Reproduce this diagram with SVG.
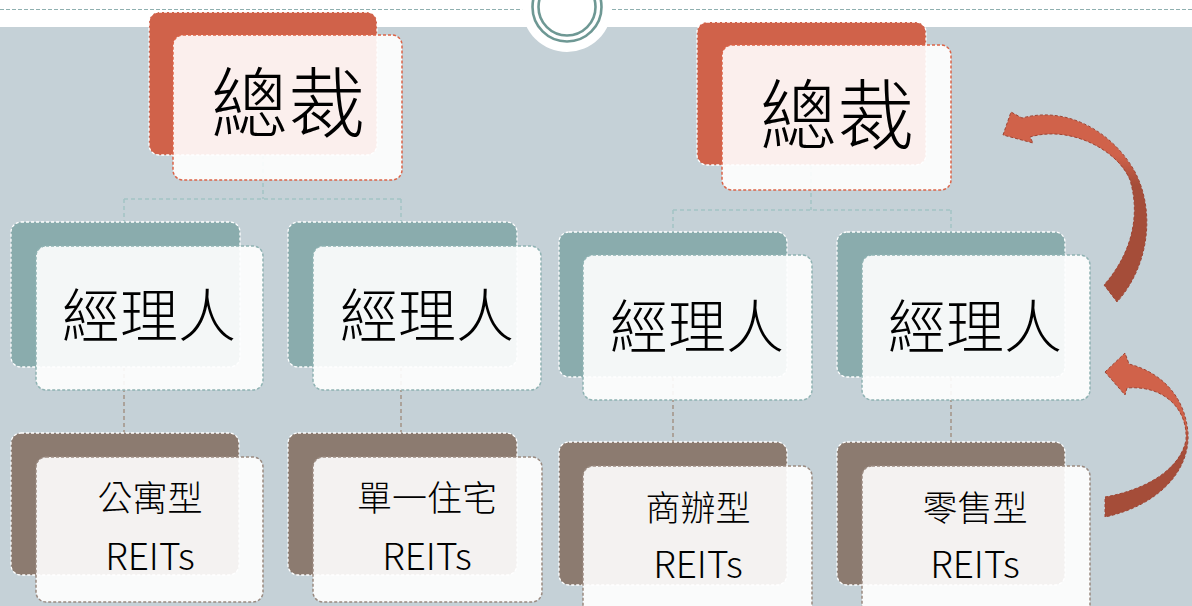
<svg xmlns="http://www.w3.org/2000/svg" width="1192" height="606" viewBox="0 0 1192 606">
<defs>
<style>
.bg-o{fill:#d0624a;stroke:#ffffff;stroke-width:1.3;stroke-dasharray:3 2}
.bg-t{fill:#8aacad;stroke:#ffffff;stroke-width:1.3;stroke-dasharray:3 2}
.bg-b{fill:#8c7b70;stroke:#ffffff;stroke-width:1.3;stroke-dasharray:3 2}
.fr{fill:#ffffff;fill-opacity:0.9;stroke-width:1.5;stroke-dasharray:3 2}
.fr-o{stroke:#dc6448}
.fr-t{stroke:#8fb3b3}
.fr-b{stroke:#9a8a80}
.t{font-family:"Noto Sans CJK TC","Noto Sans CJK SC",sans-serif;font-weight:300;fill:#000000;text-anchor:middle}
.t1{font-size:77px}
.t2{font-size:58px}
.t3{font-size:35px}
.t4{font-size:37px}
.c-t{fill:none;stroke:#a3c3c5;stroke-width:1.5;stroke-dasharray:4 3}
.c-b{fill:none;stroke:#a39287;stroke-width:1.5;stroke-dasharray:4 3}
.arr{stroke:#9e4534;stroke-width:1;stroke-dasharray:3 2}
</style>
<linearGradient id="g1" gradientUnits="userSpaceOnUse" x1="0" y1="155" x2="0" y2="185">
<stop offset="0" stop-color="#d0624a"/>
<stop offset="1" stop-color="#a54d39"/>
</linearGradient>
<linearGradient id="g2" gradientUnits="userSpaceOnUse" x1="0" y1="425" x2="0" y2="455">
<stop offset="0" stop-color="#d0624a"/>
<stop offset="1" stop-color="#a54d39"/>
</linearGradient>
</defs>

<rect x="0" y="0" width="1192" height="606" fill="#c5d1d7"/>
<rect x="0" y="0" width="1192" height="27" fill="#ffffff"/>
<line x1="0" y1="9.5" x2="1192" y2="9.5" stroke="#8fb0b0" stroke-width="1" stroke-dasharray="4 2"/>
<g id="emblem">
<circle cx="567" cy="7" r="45" fill="#ffffff"/>
<circle cx="567" cy="7" r="34.5" fill="none" stroke="#6e9894" stroke-width="2.6"/>
<circle cx="567" cy="7" r="28.5" fill="none" stroke="#6e9894" stroke-width="2.6"/>
</g>

<g id="connectors">
<path class="c-t" d="M263,155 V199 M124,199 H401 M124,199 V222 M401,199 V222"/>
<path class="c-t" d="M811,165 V210 M673,210 H951 M673,210 V232 M951,210 V232"/>
<path class="c-b" d="M124,367 V433 M401,367 V433"/>
<path class="c-b" d="M673,377 V442 M951,377 V442"/>
</g>

<g id="ceo-left">
<rect class="bg-o" x="149" y="12" width="228" height="143" rx="10"/>
<rect class="fr fr-o" x="173" y="35" width="229" height="145" rx="10"/>
<text class="t t1" x="288" y="132">總裁</text>
</g>
<g id="ceo-right">
<rect class="bg-o" x="697" y="22" width="229" height="143" rx="10"/>
<rect class="fr fr-o" x="722" y="45" width="229" height="145" rx="10"/>
<text class="t t1" x="837" y="144">總裁</text>
</g>

<g id="mgr-1">
<rect class="bg-t" x="11" y="222" width="229" height="145" rx="10"/>
<rect class="fr fr-t" x="36" y="246" width="227" height="144" rx="10"/>
<text class="t t2" x="149" y="337">經理人</text>
</g>
<g id="mgr-2">
<rect class="bg-t" x="288" y="222" width="229" height="145" rx="10"/>
<rect class="fr fr-t" x="313" y="246" width="228" height="144" rx="10"/>
<text class="t t2" x="427" y="337">經理人</text>
</g>
<g id="mgr-3">
<rect class="bg-t" x="559" y="232" width="228" height="145" rx="10"/>
<rect class="fr fr-t" x="583" y="255" width="229" height="145" rx="10"/>
<text class="t t2" x="697" y="348">經理人</text>
</g>
<g id="mgr-4">
<rect class="bg-t" x="837" y="232" width="228" height="145" rx="10"/>
<rect class="fr fr-t" x="862" y="255" width="228" height="145" rx="10"/>
<text class="t t2" x="975" y="348">經理人</text>
</g>

<g id="reit-1">
<rect class="bg-b" x="11" y="433" width="228" height="142" rx="10"/>
<rect class="fr fr-b" x="36" y="457" width="227" height="145" rx="10"/>
<text class="t t3" x="150" y="511">公寓型</text>
<text class="t t4" x="150" y="570">REITs</text>
</g>
<g id="reit-2">
<rect class="bg-b" x="288" y="433" width="229" height="142" rx="10"/>
<rect class="fr fr-b" x="313" y="457" width="229" height="145" rx="10"/>
<text class="t t3" x="427" y="511">單一住宅</text>
<text class="t t4" x="427" y="570">REITs</text>
</g>
<g id="reit-3">
<rect class="bg-b" x="559" y="442" width="228" height="143" rx="10"/>
<rect class="fr fr-b" x="583" y="466" width="229" height="150" rx="10"/>
<text class="t t3" x="698" y="521">商辦型</text>
<text class="t t4" x="698" y="578">REITs</text>
</g>
<g id="reit-4">
<rect class="bg-b" x="837" y="442" width="228" height="143" rx="10"/>
<rect class="fr fr-b" x="862" y="466" width="228" height="150" rx="10"/>
<text class="t t3" x="975" y="521">零售型</text>
<text class="t t4" x="975" y="578">REITs</text>
</g>

<g id="arrow-up-top">
<path class="arr" fill="url(#g1)" d="M1003,135 L1011,112 L1022,118 C1070,105 1115,135 1135,172 C1155,210 1150,265 1117,302 L1104,285 C1128,258 1142,220 1130,180 C1118,150 1070,125 1030,137 L1033,143 Z"/>
</g>
<g id="arrow-up-bottom">
<path class="arr" fill="url(#g2)" d="M1105,372 L1125,353 L1129,364 C1160,372 1185,395 1188,433 C1190,470 1160,505 1105,517 L1105,497 C1145,490 1180,470 1186,440 C1188,410 1165,385 1127,388 L1125,395 Z"/>
</g>
</svg>
